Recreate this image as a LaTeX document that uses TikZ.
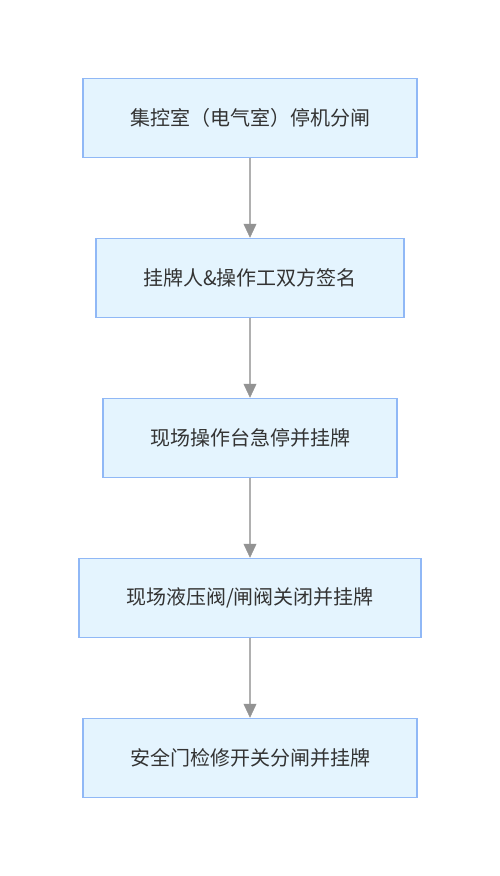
\documentclass[tikz,border=0pt]{standalone}
\usepackage{fontspec}
\newfontfamily\cjk{Noto Sans CJK SC}
\usetikzlibrary{arrows.meta,positioning}
\definecolor{boxfill}{HTML}{E4F4FE}
\definecolor{boxline}{HTML}{90B8F6}
\definecolor{pfeilgrau}{HTML}{B0B0B0}
\definecolor{spitze}{HTML}{939393}
\definecolor{schrift}{HTML}{333333}
\tikzset{
	schritt/.style={rectangle,draw=boxline,line width=1.5pt,fill=boxfill,
		minimum height=79pt,inner xsep=47pt,text=schrift,
		font=\cjk\fontsize{20}{24}\selectfont},
	pfeil/.style={draw=pfeilgrau,line width=1.6pt,
		-{Triangle[width=13pt,length=14pt,color=spitze,fill=spitze,line width=0.5pt]}}
}
\begin{document}
\begin{tikzpicture}[auto,x=1pt,y=1pt]
	\useasboundingbox (0,0) rectangle (500,-876);
	% Schritte
		\node (1) at (250,-118) [schritt] {集控室（电气室）停机分闸};
		\node (2) at (250,-278) [schritt] {挂牌人\&操作工双方签名};
		\node (3) at (250,-438) [schritt] {现场操作台急停并挂牌};
		\node (4) at (250,-598) [schritt] {现场液压阀/闸阀关闭并挂牌};
		\node (5) at (250,-758) [schritt] {安全门检修开关分闸并挂牌};
	% Pfeile
		\draw[pfeil] (1) -- (2);
		\draw[pfeil] (2) -- (3);
		\draw[pfeil] (3) -- (4);
		\draw[pfeil] (4) -- (5);
	\end{tikzpicture}
\end{document}
